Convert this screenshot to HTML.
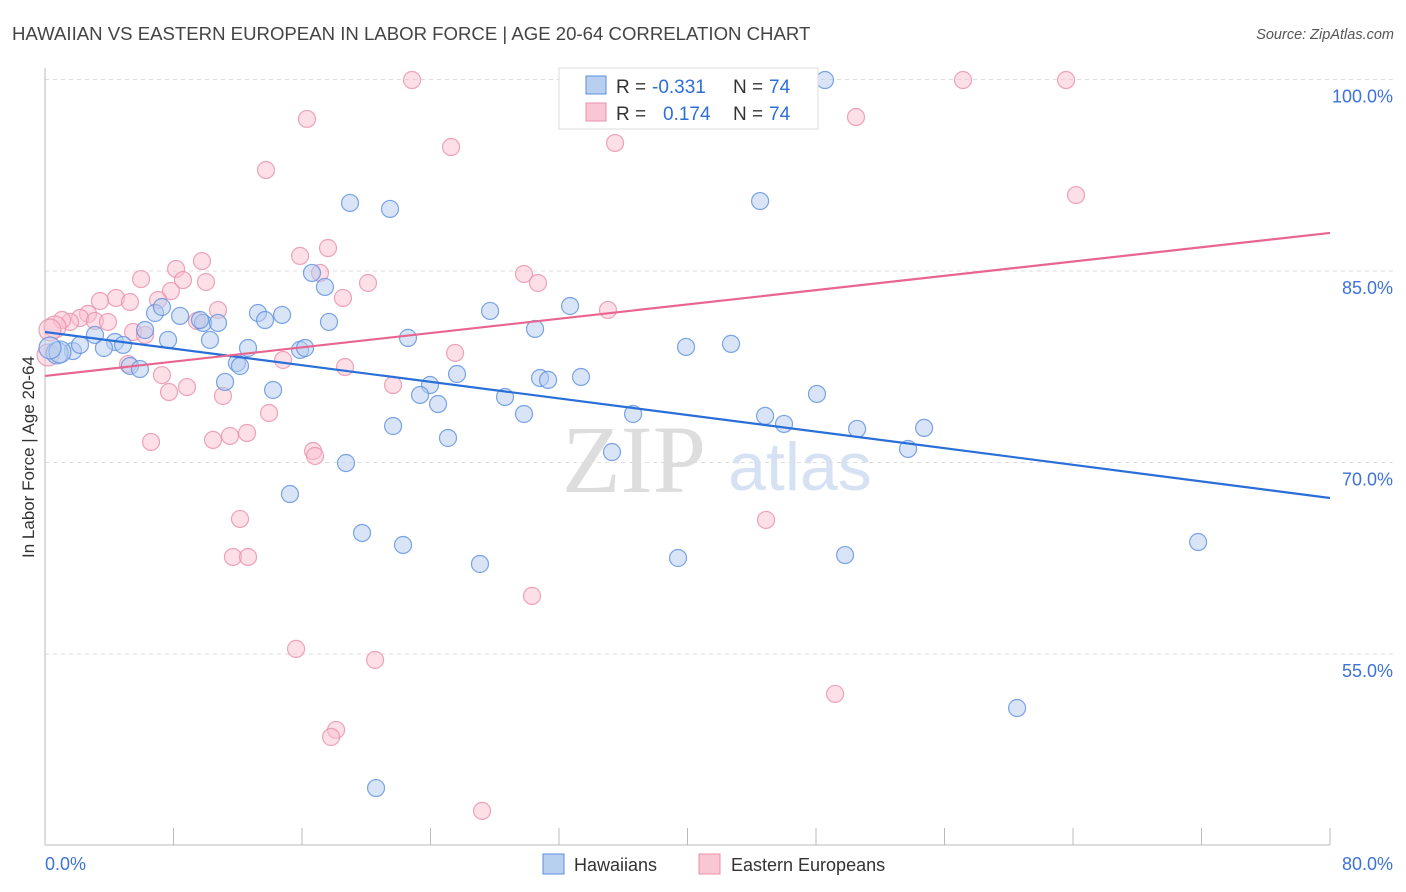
<!DOCTYPE html>
<html><head><meta charset="utf-8"><style>
body{margin:0;background:#fff;width:1406px;height:892px;overflow:hidden;font-family:"Liberation Sans",sans-serif}
svg{position:absolute;left:0;top:0}
</style></head><body>
<svg id="c" width="1406" height="892">
<text x="12" y="40" font-size="18.6" fill="#444">HAWAIIAN VS EASTERN EUROPEAN IN LABOR FORCE | AGE 20-64 CORRELATION CHART</text>
<text x="1394" y="39" font-size="14.5" fill="#555" font-style="italic" text-anchor="end">Source: ZipAtlas.com</text>
<text x="634" y="492" font-size="96" fill="#ddd" font-family="Liberation Serif" text-anchor="middle">ZIP</text>
<text x="800" y="490" font-size="68" fill="#d6e2f4" text-anchor="middle">atlas</text>
<g id="grid"></g><g id="axes"></g><g id="pts"></g><g id="trend"></g>
<text transform="translate(34,457) rotate(-90)" font-size="17" fill="#333" text-anchor="middle">In Labor Force | Age 20-64</text>
<g>
<rect x="559" y="68" width="259" height="61" fill="#fff" stroke="#ddd"/>
<rect x="586" y="76" width="20" height="18" fill="#b8cff0" stroke="#5b8fe0"/>
<rect x="586" y="103" width="20" height="18" fill="#f9c6d4" stroke="#ea8fab"/>
<text y="93" font-size="19" fill="#333"><tspan x="616">R =</tspan><tspan x="652" fill="#2f6fd8">-0.331</tspan><tspan x="733">N =</tspan><tspan x="769" fill="#2f6fd8">74</tspan></text>
<text y="120" font-size="19" fill="#333"><tspan x="616">R =</tspan><tspan x="663" fill="#2f6fd8">0.174</tspan><tspan x="733">N =</tspan><tspan x="769" fill="#2f6fd8">74</tspan></text>
</g>
<g>
<rect x="543" y="854" width="21" height="20" fill="#b8cff0" stroke="#5b8fe0"/>
<text x="574" y="871" font-size="18" fill="#333">Hawaiians</text>
<rect x="699" y="854" width="21" height="20" fill="#f9c6d4" stroke="#ea8fab"/>
<text x="731" y="871" font-size="18" fill="#333">Eastern Europeans</text>
</g>
</svg>
<script>
const yTicks=[100,85,70,55];
const yTickLabels=["100.0%","85.0%","70.0%","55.0%"];
const xTickLabels=["0.0%","80.0%"];
const blueX=[48.56,44.52,18.99,21.48,16.62,17.43,32.69,27.71,13.26,14.76,6.85,8.41,9.84,10.77,9.65,13.70,17.68,7.28,6.23,3.11,4.36,4.86,7.66,10.27,22.60,30.51,42.71,39.91,12.64,15.88,16.19,3.67,1.74,0.75,11.95,12.14,5.29,5.91,25.65,30.82,31.32,33.37,11.21,23.97,14.20,23.35,28.64,24.47,48.06,29.82,36.61,44.83,46.01,50.56,54.73,21.67,25.09,53.73,35.30,18.74,15.25,19.74,22.29,27.08,39.41,49.81,71.79,60.52,20.61,2.18,0.93,0.31];
const blueY=[99.96,90.48,90.33,89.86,84.85,83.75,82.26,81.87,81.71,81.56,81.71,81.48,80.93,80.93,81.16,81.16,81.01,82.18,80.38,79.99,79.44,79.21,79.60,79.60,79.76,80.46,79.29,79.05,78.97,78.82,78.97,78.97,78.73,78.58,77.79,77.56,77.56,77.32,76.93,76.62,76.47,76.70,76.31,76.07,75.68,75.29,75.13,74.58,75.37,73.80,73.80,73.65,73.02,72.63,72.71,72.86,71.92,71.06,70.82,69.96,67.53,64.48,63.54,62.05,62.52,62.75,63.77,50.77,44.50,79.21,78.66,78.97];
const pinkX=[22.85,57.15,63.57,47.19,16.31,50.49,25.28,35.49,13.76,64.19,17.62,15.88,9.77,8.16,17.12,29.82,30.69,5.98,8.59,10.02,20.11,18.55,7.84,4.42,3.42,5.29,7.04,10.77,35.05,2.68,2.18,1.56,1.06,3.11,3.92,0.62,9.46,5.48,6.23,0.31,25.53,18.68,14.82,5.17,7.28,21.67,8.84,7.72,11.08,13.95,12.58,11.52,10.46,6.60,16.69,16.81,12.14,44.89,11.70,12.64,30.32,15.63,20.55,49.19,18.12,17.81,27.21,0.19];
const pinkY=[99.96,99.96,99.96,99.96,96.91,97.06,94.71,95.03,92.91,90.95,86.80,86.18,85.78,85.16,84.85,84.77,84.06,84.37,84.29,84.14,84.06,82.89,83.43,82.89,82.65,82.57,82.73,81.95,81.95,81.64,81.32,81.01,81.16,81.09,81.01,80.62,81.09,80.22,79.99,80.38,78.58,77.48,78.03,77.71,76.85,76.07,75.91,75.52,75.21,73.88,72.31,72.08,71.77,71.61,70.90,70.51,65.58,65.50,62.60,62.60,59.55,55.40,54.54,51.87,49.05,48.50,42.71,78.42];
const blueTrend=[80.22,67.22];
const pinkTrend=[76.78,87.98];
const NS="http://www.w3.org/2000/svg";
const X=v=>45+v/80*1285, Y=v=>79.5+(100-v)/15*191.5;
function mk(t,a,p){const e=document.createElementNS(NS,t);for(const k in a)e.setAttribute(k,a[k]);document.getElementById(p).appendChild(e);return e;}
yTicks.forEach((t,i)=>{
 const g=mk('line',{x1:45,x2:1395,y1:Y(t),y2:Y(t),stroke:'#ddd','stroke-dasharray':'4,4'},'grid');
 
 
 const l=mk('text',{x:1393,y:Y(t)+23,'font-size':18,fill:'#3d72d8','text-anchor':'end'},'axes');
 l.textContent=yTickLabels[i];
 
 
});
mk('line',{x1:45,x2:45,y1:68,y2:845,stroke:'#bbb'},'axes');
mk('line',{x1:45,x2:1330,y1:845,y2:845,stroke:'#bbb'},'axes');
for(let i=0;i<=10;i++){const t=mk('line',{x1:X(i*8),x2:X(i*8),y1:828,y2:845,stroke:'#bbb'},'axes');
 
 }
const x0=mk('text',{x:45,y:870,'font-size':18,fill:'#3d72d8'},'axes');x0.textContent=xTickLabels[0];


const x1=mk('text',{x:1393,y:870,'font-size':18,fill:'#3d72d8','text-anchor':'end'},'axes');x1.textContent=xTickLabels[1];


function pts(xs,ys,f,s,n){xs.forEach((v,i)=>{const c=mk('circle',{cx:X(v),cy:Y(ys[i]),r:(v<1?11:8.5),fill:f,'fill-opacity':0.5,stroke:s,'stroke-width':1.2,'stroke-opacity':0.8},'pts');
 
 });}
pts(pinkX,pinkY,'#f9c0d0','#ea8fab','point-eastern-european');
pts(blueX,blueY,'#b3ccef','#5b8fe0','point-hawaiian');
const bt=mk('line',{x1:X(0),x2:X(80),y1:Y(blueTrend[0]),y2:Y(blueTrend[1]),stroke:'#2a6fd8','stroke-width':2.2},'trend');


const pt=mk('line',{x1:X(0),x2:X(80),y1:Y(pinkTrend[0]),y2:Y(pinkTrend[1]),stroke:'#e8658f','stroke-width':2.2},'trend');


</script>
</body></html>
